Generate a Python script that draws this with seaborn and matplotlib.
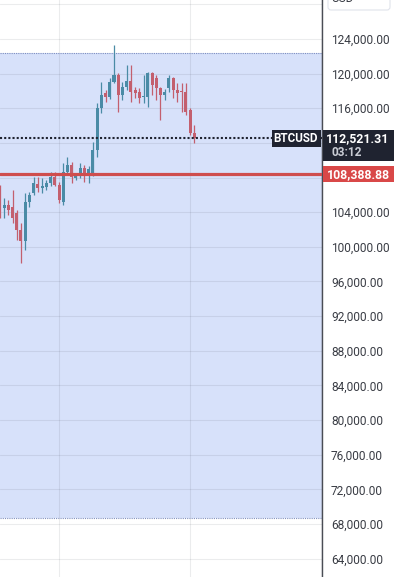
import numpy as np
import pandas as pd
import matplotlib
matplotlib.use("Agg")
import matplotlib.pyplot as plt
import matplotlib.dates as mdates
from matplotlib.patches import Rectangle, FancyBboxPatch
from matplotlib.ticker import MultipleLocator, FuncFormatter
from matplotlib.transforms import IdentityTransform
import seaborn as sns

# Daily BTCUSD candles, 17 Jun 2025 onwards
start_date = "2025-06-17"
opens = [106790, 104480, 104830, 104600, 103900, 101940, 100670, 105170, 106210, 107250,
         106790, 106910, 107370, 108060, 107140, 105170, 108640, 109450, 107950, 108180,
         109100, 108520, 108520, 111180, 116030, 117760, 117300, 119030, 119840, 117530,
         118460, 119150, 118110, 117880, 117300, 117300, 120070, 119500, 118340, 117530,
         118340, 119500, 118110, 117990, 117880, 115800, 113140]
highs = [107140, 105640, 105400, 106560, 104250, 102750, 106210, 106330, 108060, 108060,
         107950, 107710, 108640, 108640, 107480, 109680, 110370, 109790, 108520, 109680,
         109450, 109330, 112100, 116610, 119030, 118110, 119500, 123310, 120070, 119030,
         121000, 121000, 118460, 118340, 119840, 120190, 120190, 119840, 118460, 118230,
         119840, 119610, 118920, 118920, 118920, 116030, 114070]
lows = [103330, 103330, 103670, 102750, 100790, 98130, 99630, 104600, 105980, 106330,
        106210, 106560, 107020, 107020, 105060, 104830, 108290, 107370, 107710, 107950,
        107480, 107370, 108180, 110370, 115450, 116720, 117070, 118920, 115570, 116960,
        118110, 116720, 117190, 116610, 116610, 116150, 117530, 116960, 114650, 116960,
        117880, 117190, 116720, 115570, 115220, 112910, 111990]
closes = [103670, 104830, 104250, 103330, 101940, 100670, 105170, 105980, 107370, 106790,
          107020, 107370, 108060, 107140, 105400, 108640, 109450, 108060, 108180, 109100,
          108520, 108990, 111180, 116030, 117530, 117300, 119030, 119840, 117530, 118460,
          119150, 117880, 117760, 117190, 117420, 120070, 118690, 118340, 117530, 117880,
          119500, 118110, 117760, 117880, 115570, 113140, 112521.31]

last_price = 112521.31
level_price = 108388.88
zone_top = 122380
zone_bottom = 68720
symbol = "BTCUSD"
countdown = "03:12"
currency = "USD"

UP = "#4a8ba6"
DOWN = "#c35f6e"
DARK = "#1f2330"
LEVEL = "#cf4d4d"
LEVEL_TAG = "#d94848"

df = pd.DataFrame({
    "date": pd.date_range(start_date, periods=len(opens), freq="D"),
    "open": opens, "high": highs, "low": lows, "close": closes,
})
df["up"] = df["close"] >= df["open"]
df["color"] = np.where(df["up"], UP, DOWN)

sns.set_theme(style="white")
plt.rcParams["font.family"] = ["Roboto", "DejaVu Sans"]

W, H = 397, 577
fig = plt.figure(figsize=(W / 100, H / 100), dpi=100)
plot_w = 322
ax = fig.add_axes([0, 0, plot_w / W, 1])

ymin, ymax = 61870, 128500
x0 = mdates.date2num(pd.Timestamp(start_date))
ax.set_xlim(x0 + 0.04, x0 + 76.2)
ax.set_ylim(ymin, ymax)

# highlighted price zone with dotted edges
ax.axhspan(zone_bottom, zone_top, color="#d7e1fa", zorder=0, lw=0)
for yv in (zone_top, zone_bottom):
    ax.axhline(yv, color="#7f8fbf", lw=0.8, ls=(0, (1, 1)), zorder=1)

# grid
ax.yaxis.set_major_locator(MultipleLocator(4000))
ax.xaxis.set_major_locator(mdates.MonthLocator())
ax.grid(True, color="#2a2e39", alpha=0.09, lw=0.8)
ax.set_axisbelow(True)

# candles
dates = mdates.date2num(df["date"])
ax.vlines(dates, df["low"], df["high"], colors=df["color"], lw=0.9, zorder=3)
ax.bar(dates, df["close"] - df["open"], bottom=df["open"], width=0.72,
       color=df["color"], lw=0, zorder=4)

# last price and level lines
ax.axhline(last_price, color=DARK, lw=1.5, ls=(0, (1, 1)), zorder=5)
ax.axhline(level_price, color=LEVEL, lw=2.3, zorder=5)


# price scale labels; those hidden under a tag or the currency box are skipped
def price_label(v, pos):
    if abs(v - last_price) < 2500 or abs(v - level_price) < 1500 or v > 126000:
        return ""
    return f"{v:,.2f}"


ax.yaxis.tick_right()
ax.yaxis.set_major_formatter(FuncFormatter(price_label))
ax.tick_params(axis="y", length=0, pad=6.5, labelsize=8.6, labelcolor="#3a3d45")
ax.tick_params(axis="x", length=0, labelbottom=False)
for side in ("top", "left", "bottom"):
    ax.spines[side].set_visible(False)
ax.spines["right"].set_color("#4a4d55")
ax.spines["right"].set_linewidth(1.0)


# price tags, placed in pixel units
def ypix(v):
    return ax.transData.transform((0, v))[1]


def box(xl, xr, yc, up, down, color):
    fig.patches.append(Rectangle((xl, ypix(yc) - down), xr - xl, up + down,
                                 transform=IdentityTransform(), color=color,
                                 lw=0, zorder=10))


yp = ypix(last_price)
box(272, plot_w - 1, last_price, 8.5, 8.5, DARK)
fig.text(296 / W, yp / H, symbol, color="white", fontsize=8.4, fontweight="bold",
         ha="center", va="center", zorder=11)
box(plot_w + 1, 394, last_price, 8.5, 22.5, DARK)
fig.text(358 / W, yp / H, f"{last_price:,.2f}", color="white", fontsize=8.8,
         fontweight="bold", ha="center", va="center", zorder=11)
fig.text(331 / W, (yp - 14.5) / H, countdown, color="#c9ccd4", fontsize=8.6,
         fontweight="bold", ha="left", va="center", zorder=11)

yl = ypix(level_price)
box(plot_w + 1, 394, level_price, 8, 8, LEVEL_TAG)
fig.text(358 / W, yl / H, f"{level_price:,.2f}", color="white", fontsize=8.8,
         fontweight="bold", ha="center", va="center", zorder=11)

# currency selector at the top of the price scale
fig.patches.append(FancyBboxPatch((328, H - 10), 62, 20, boxstyle="round,pad=0,rounding_size=3",
                                  transform=IdentityTransform(), fc="white",
                                  ec="#e0e3eb", lw=0.8, zorder=10))
fig.text(331 / W, (H + 2) / H, currency, color="#3a3d45", fontsize=8.6,
         ha="left", va="center", zorder=11)

fig.savefig("out.png", dpi=100)
